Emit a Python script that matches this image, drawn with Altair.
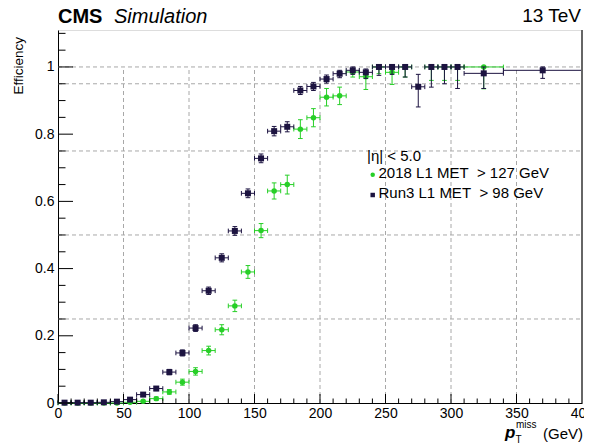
import altair as alt
import pandas as pd

# ---------------- data ----------------
# Run3 L1 MET > 98 GeV  (bins: 0..310 step 10, then 310-340, 340-400)
run3_edges = list(range(0, 311, 10)) + [340, 400]
run3_eff = [0.001, 0.001, 0.001, 0.002, 0.004, 0.010, 0.025, 0.043, 0.092, 0.149,
            0.223, 0.334, 0.432, 0.512, 0.624, 0.728, 0.809, 0.822, 0.930, 0.942,
            0.964, 0.980, 0.990, 0.984, 1.0, 1.0, 1.0, 0.941, 1.0, 1.0,
            1.0, 0.981, 0.990]
run3_err_lo = [0.001, 0.001, 0.001, 0.001, 0.002, 0.003, 0.005, 0.006, 0.008, 0.009,
               0.010, 0.011, 0.012, 0.013, 0.013, 0.013, 0.014, 0.015, 0.012, 0.012,
               0.012, 0.012, 0.012, 0.018, 0.025, 0.022, 0.030, 0.060, 0.060, 0.050,
               0.064, 0.045, 0.024]
run3_err_hi = [0.001, 0.001, 0.001, 0.001, 0.002, 0.003, 0.005, 0.006, 0.008, 0.009,
               0.010, 0.011, 0.012, 0.013, 0.013, 0.013, 0.014, 0.015, 0.012, 0.012,
               0.012, 0.010, 0.010, 0.010, 0.0, 0.0, 0.0, 0.037, 0.0, 0.0,
               0.0, 0.019, 0.010]

# 2018 L1 MET > 127 GeV  (bins: 0..310 step 10, then 310-340)
l18_edges = list(range(0, 311, 10)) + [340]
l18_eff = [0.0, 0.0, 0.0, 0.0, 0.0, 0.002, 0.005, 0.013, 0.033, 0.062,
           0.094, 0.156, 0.218, 0.289, 0.390, 0.513, 0.631, 0.650, 0.815, 0.849,
           0.910, 0.914, 0.985, 0.971, 1.0, 0.984, 1.0, None, 1.0, 1.0,
           1.0, 1.0]
l18_err_lo = [0.0, 0.0, 0.0, 0.0, 0.0, 0.002, 0.003, 0.005, 0.007, 0.009,
              0.011, 0.013, 0.015, 0.017, 0.019, 0.021, 0.024, 0.028, 0.028, 0.027,
              0.026, 0.026, 0.015, 0.038, 0.020, 0.036, 0.030, None, 0.040, 0.040,
              0.040, 0.065]
l18_err_hi = [0.0, 0.0, 0.0, 0.0, 0.0, 0.002, 0.003, 0.005, 0.007, 0.009,
              0.011, 0.013, 0.015, 0.017, 0.019, 0.021, 0.024, 0.028, 0.028, 0.027,
              0.026, 0.026, 0.010, 0.013, 0.0, 0.011, 0.0, None, 0.0, 0.0,
              0.0, 0.0]

grid_y = [0.25, 0.5, 0.75, 0.95, 1.0]
grid_x = [50, 100, 150, 200, 250, 300, 350]
x_major = [0, 50, 100, 150, 200, 250, 300, 350, 400]
x_minor = [v for v in range(0, 401, 10) if v % 50 != 0]
y_major = [0, 0.2, 0.4, 0.6, 0.8, 1.0]
y_minor = [round(i * 0.05, 2) for i in range(23) if i % 4 != 0]

legend_labels = ["|η| < 5.0",
                 "2018 L1 MET\u00a0\u00a0> 127 GeV",
                 "Run3 L1 MET\u00a0\u00a0> 98 GeV"]

DARK = "#1c1340"
GREEN = "#27cf27"
GRID = "#a8a8a8"
FONT = "Liberation Sans"
W, H = 524, 373
XMAX, YMAX = 400, 1.11


def make_df(edges, eff, elo, ehi):
    rows = []
    for i, e in enumerate(eff):
        if e is None:
            continue
        lo, hi = edges[i], edges[i + 1]
        rows.append(dict(x=(lo + hi) / 2, xlo=lo, xhi=hi, y=e,
                         ylo=e - elo[i], yhi=min(e + ehi[i], 1.0)))
    return pd.DataFrame(rows)


df_run3 = make_df(run3_edges, run3_eff, run3_err_lo, run3_err_hi)
df_18 = make_df(l18_edges, l18_eff, l18_err_lo, l18_err_hi)

xs = alt.Scale(domain=[0, XMAX], nice=False, zero=False)
ys = alt.Scale(domain=[0, YMAX], nice=False, zero=False)


def series(df, color, shape, size):
    base = alt.Chart(df)
    xerr = base.mark_rule(color=color, strokeWidth=1).encode(
        x=alt.X("xlo:Q", scale=xs), x2="xhi:Q", y=alt.Y("y:Q", scale=ys))
    yerr = base.mark_rule(color=color, strokeWidth=1).encode(
        x=alt.X("x:Q", scale=xs), y=alt.Y("ylo:Q", scale=ys), y2="yhi:Q")
    xc = df.melt(id_vars=["y"], value_vars=["xlo", "xhi"], value_name="xc")
    yc = df.melt(id_vars=["x"], value_vars=["ylo", "yhi"], value_name="yc")
    xcaps = alt.Chart(xc).mark_point(shape="M0,-1L0,1", size=22, filled=False,
                                     stroke=color, strokeWidth=1, opacity=1).encode(
        x=alt.X("xc:Q", scale=xs), y=alt.Y("y:Q", scale=ys))
    ycaps = alt.Chart(yc).mark_point(shape="M-1,0L1,0", size=22, filled=False,
                                     stroke=color, strokeWidth=1, opacity=1).encode(
        x=alt.X("x:Q", scale=xs), y=alt.Y("yc:Q", scale=ys))
    pts = base.mark_point(shape=shape, size=size, filled=True, color=color,
                          opacity=1).encode(
        x=alt.X("x:Q", scale=xs), y=alt.Y("y:Q", scale=ys))
    return [xerr, yerr, xcaps, ycaps, pts]


# grid
hgrid = alt.Chart(pd.DataFrame({"g": grid_y})).mark_rule(
    color=GRID, strokeDash=[4, 3], strokeWidth=1).encode(
    y=alt.Y("g:Q", scale=ys), x=alt.value(0), x2=alt.value(W))
vgrid = alt.Chart(pd.DataFrame({"g": grid_x})).mark_rule(
    color=GRID, strokeDash=[4, 3], strokeWidth=1).encode(
    x=alt.X("g:Q", scale=xs), y=alt.datum(0, scale=ys), y2=alt.datum(1.0))

# axes (labels only; inward ticks drawn below)
axis_base = alt.Chart(pd.DataFrame({"x": [0], "y": [0]})).mark_point(opacity=0).encode(
    x=alt.X("x:Q", scale=xs, axis=alt.Axis(
        values=x_major, title=None, ticks=False, grid=False, domainColor="black",
        labelFont=FONT, labelFontSize=14, labelColor="black", labelPadding=3,
        labelFlush=False, labelOverlap=False)),
    y=alt.Y("y:Q", scale=ys, axis=alt.Axis(
        values=y_major, format="~g", title=None, ticks=False, grid=False,
        domainColor="black", labelFont=FONT, labelFontSize=14, labelColor="black",
        labelPadding=4, labelFlush=False, labelOverlap=False)))

xt_major = alt.Chart(pd.DataFrame({"t": x_major})).mark_rule(color="black").encode(
    x=alt.X("t:Q", scale=xs), y=alt.value(H), y2=alt.value(H - 9))
xt_minor = alt.Chart(pd.DataFrame({"t": x_minor})).mark_rule(color="black").encode(
    x=alt.X("t:Q", scale=xs), y=alt.value(H), y2=alt.value(H - 4.5))
yt_major = alt.Chart(pd.DataFrame({"t": y_major})).mark_rule(color="black").encode(
    y=alt.Y("t:Q", scale=ys), x=alt.value(0), x2=alt.value(15))
yt_minor = alt.Chart(pd.DataFrame({"t": y_minor})).mark_rule(color="black").encode(
    y=alt.Y("t:Q", scale=ys), x=alt.value(0), x2=alt.value(7.5))

# thicker right frame, as in the reference
right_frame = alt.Chart(pd.DataFrame({"f": [XMAX]})).mark_rule(
    color="#666666", strokeWidth=2).encode(
    x=alt.X("f:Q", scale=xs), y=alt.value(0), y2=alt.value(H))


def txt(s, x, y, size, **kw):
    return alt.Chart(pd.DataFrame({"s": [s]})).mark_text(
        font=kw.pop("font", FONT), fontSize=size, color="black",
        align=kw.pop("align", "left"), baseline=kw.pop("baseline", "alphabetic"),
        **kw).encode(text="s:N", x=alt.value(x), y=alt.value(y))


texts = [
    txt("CMS", 0, -7, 20, fontWeight="bold"),
    txt("Simulation", 56, -7, 20, fontStyle="italic"),
    txt("13 TeV", 523, -8, 19, align="right"),
    txt("Efficiency", -39, 7, 13.5, angle=270, align="right", baseline="middle"),
    txt(legend_labels[0], 309, 130.5, 15),
    txt(legend_labels[1], 320.5, 147.5, 15),
    txt(legend_labels[2], 320.5, 167.5, 15),
    txt("p", 447, 408, 17, fontWeight="bold", fontStyle="italic"),
    txt("miss", 458, 397.5, 10),
    txt("T", 457.5, 412.5, 10),
    txt("(GeV)", 485, 409, 15),
]

leg_dot = alt.Chart(pd.DataFrame({"a": [0]})).mark_point(
    shape="circle", size=20, filled=True, color=GREEN, opacity=1).encode(
    x=alt.value(314.7), y=alt.value(144.7))
leg_sq = alt.Chart(pd.DataFrame({"a": [0]})).mark_point(
    shape="square", size=20, filled=True, color=DARK, opacity=1).encode(
    x=alt.value(314.7), y=alt.value(165))

layers = [axis_base, hgrid, vgrid]
layers += series(df_18, GREEN, "circle", 30)
layers += series(df_run3, DARK, "square", 36)
layers += [xt_major, xt_minor, yt_major, yt_minor, right_frame, leg_dot, leg_sq] + texts

chart = alt.layer(*layers).properties(
    width=W, height=H,
    autosize=alt.AutoSizeParams(type="none"),
    padding={"left": 50, "top": 22, "right": 2, "bottom": 40},
).configure_view(stroke="#555555", strokeWidth=1).configure(background="white")

chart.save("out.html", embed_options={"renderer": "svg", "actions": False})
